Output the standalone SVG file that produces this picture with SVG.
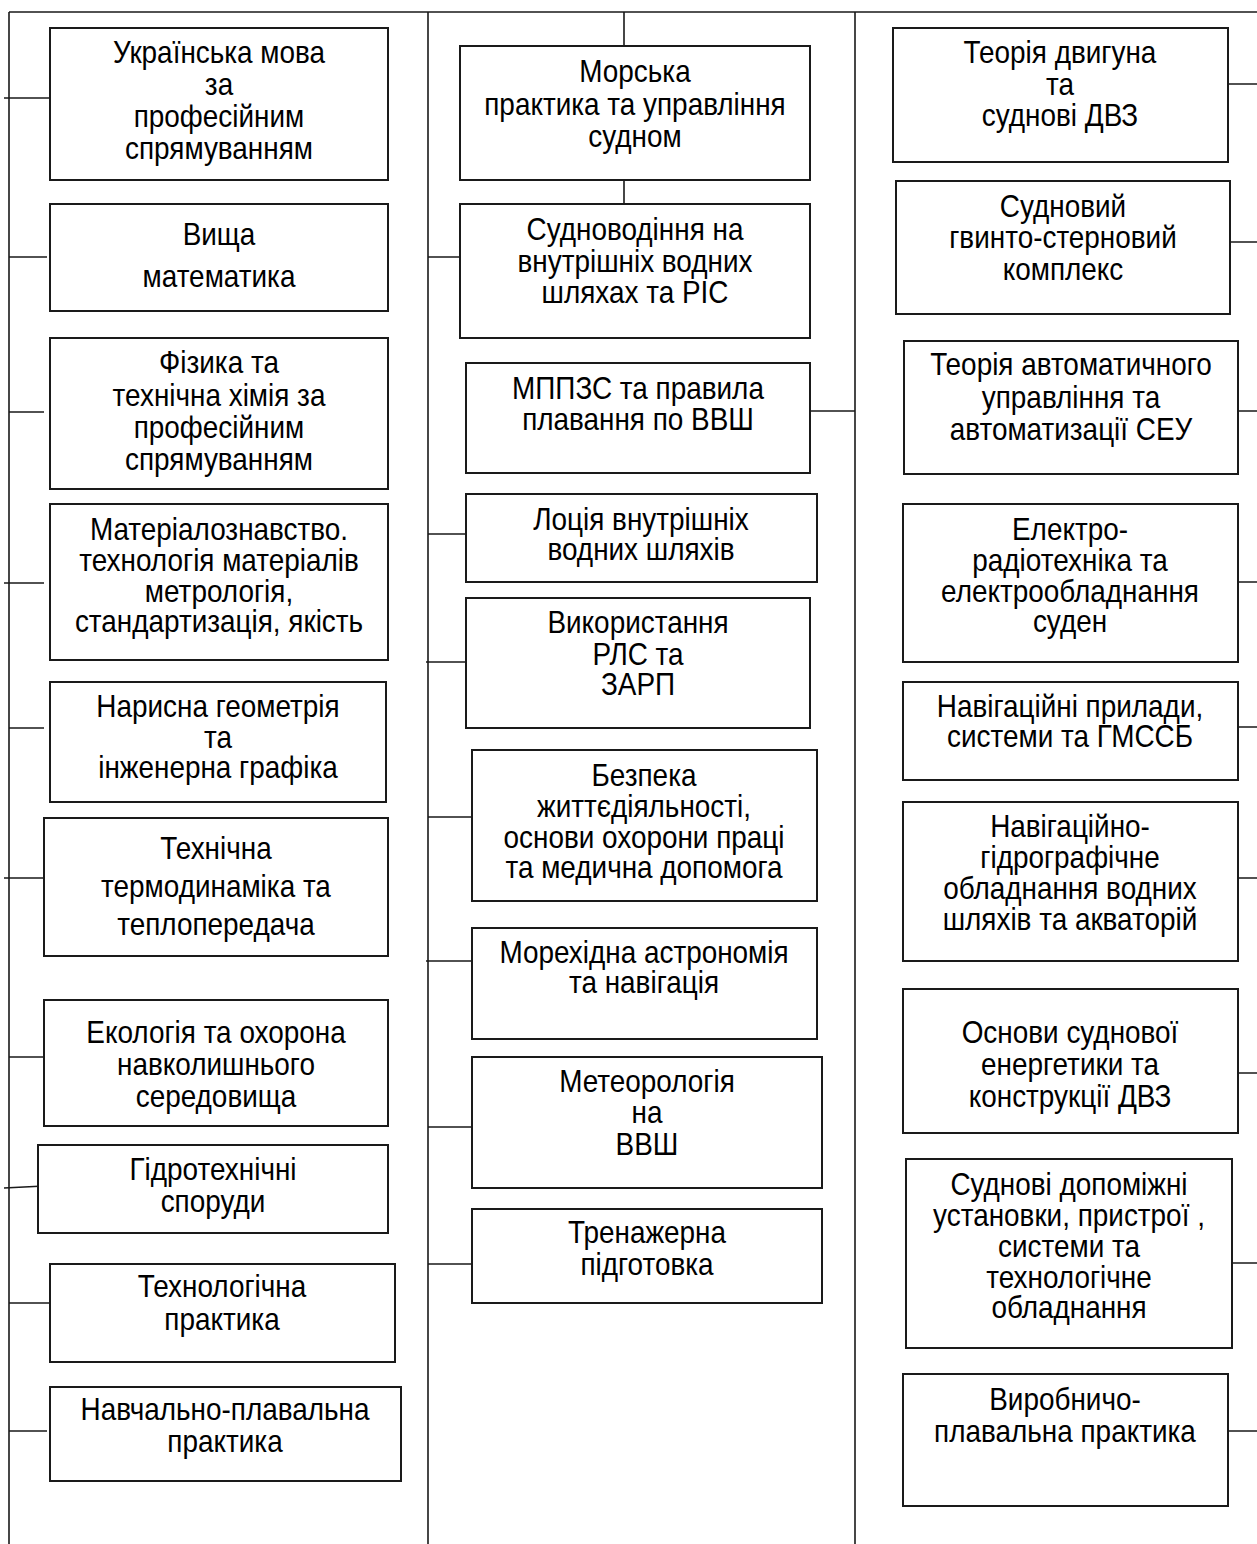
<svg xmlns="http://www.w3.org/2000/svg" width="1257" height="1544" viewBox="0 0 1257 1544">
<style>
.b{fill:#fff;stroke:#1a1a1a;stroke-width:2}
.c{stroke:#1a1a1a;stroke-width:1.6;fill:none}
text{font-family:"Liberation Sans",Arial,sans-serif;font-size:31px;fill:#000;text-anchor:middle}
</style>
<rect width="1257" height="1544" fill="#fff"/>
<g id="connectors">
<path class="c" d="M9,12H1257M9,12V1544M428,12V1544M855,12V1544M624,12V46M624,180V204"/>
<path class="c" d="M4,98H50M9,257H47M9,412H44M4,583H44M9,728H44M4,878H47M9,1057H44M4,1188L44,1186M9,1303H50M9,1431H47"/>
<path class="c" d="M428,257H460M810,411H855M428,534H466M426,662H466M428,817H472M426,961H472M428,1127H472M428,1264H472"/>
<path class="c" d="M1228,84H1257M1230,242H1257M1238,411H1257M1238,582H1257M1238,727H1257M1238,878H1257M1238,1073H1257M1232,1263H1257M1228,1431H1257"/>
</g>
<g id="n1"><rect class="b" x="50" y="28" width="338" height="152"/><text transform="matrix(0.9 0 0 1 21.9 0)"><tspan x="219" y="63">Українська мова</tspan><tspan x="219" y="95">за</tspan><tspan x="219" y="127">професійним</tspan><tspan x="219" y="159">спрямуванням</tspan></text></g>
<g id="n2"><rect class="b" x="50" y="204" width="338" height="107"/><text transform="matrix(0.9 0 0 1 21.9 0)"><tspan x="219" y="245">Вища</tspan><tspan x="219" y="287">математика</tspan></text></g>
<g id="n3"><rect class="b" x="50" y="338" width="338" height="151"/><text transform="matrix(0.9 0 0 1 21.9 0)"><tspan x="219" y="373">Фізика та</tspan><tspan x="219" y="406">технічна хімія за</tspan><tspan x="219" y="438">професійним</tspan><tspan x="219" y="470">спрямуванням</tspan></text></g>
<g id="n4"><rect class="b" x="50" y="504" width="338" height="156"/><text transform="matrix(0.9 0 0 1 21.9 0)"><tspan x="219" y="540">Матеріалознавство.</tspan><tspan x="219" y="571">технологія матеріалів</tspan><tspan x="219" y="602">метрологія,</tspan><tspan x="219" y="632">стандартизація, якість</tspan></text></g>
<g id="n5"><rect class="b" x="50" y="682" width="336" height="120"/><text transform="matrix(0.9 0 0 1 21.8 0)"><tspan x="218" y="717">Нарисна геометрія</tspan><tspan x="218" y="748">та</tspan><tspan x="218" y="778">інженерна графіка</tspan></text></g>
<g id="n6"><rect class="b" x="44" y="818" width="344" height="138"/><text transform="matrix(0.9 0 0 1 21.6 0)"><tspan x="216" y="859">Технічна</tspan><tspan x="216" y="897">термодинаміка та</tspan><tspan x="216" y="935">теплопередача</tspan></text></g>
<g id="n7"><rect class="b" x="44" y="1000" width="344" height="126"/><text transform="matrix(0.9 0 0 1 21.6 0)"><tspan x="216" y="1043">Екологія та охорона</tspan><tspan x="216" y="1075">навколишнього</tspan><tspan x="216" y="1107">середовища</tspan></text></g>
<g id="n8"><rect class="b" x="38" y="1145" width="350" height="88"/><text transform="matrix(0.9 0 0 1 21.3 0)"><tspan x="213" y="1180">Гідротехнічні</tspan><tspan x="213" y="1212">споруди</tspan></text></g>
<g id="n9"><rect class="b" x="50" y="1264" width="345" height="98"/><text transform="matrix(0.9 0 0 1 22.2 0)"><tspan x="222" y="1297">Технологічна</tspan><tspan x="222" y="1330">практика</tspan></text></g>
<g id="n10"><rect class="b" x="50" y="1387" width="351" height="94"/><text transform="matrix(0.9 0 0 1 22.5 0)"><tspan x="225" y="1420">Навчально-плавальна</tspan><tspan x="225" y="1452">практика</tspan></text></g>
<g id="m1"><rect class="b" x="460" y="46" width="350" height="134"/><text transform="matrix(0.9 0 0 1 63.5 0)"><tspan x="635" y="82">Морська</tspan><tspan x="635" y="115">практика та управління</tspan><tspan x="635" y="147">судном</tspan></text></g>
<g id="m2"><rect class="b" x="460" y="204" width="350" height="134"/><text transform="matrix(0.9 0 0 1 63.5 0)"><tspan x="635" y="240">Судноводіння на</tspan><tspan x="635" y="272">внутрішніх водних</tspan><tspan x="635" y="303">шляхах та РІС</tspan></text></g>
<g id="m3"><rect class="b" x="466" y="363" width="344" height="110"/><text transform="matrix(0.9 0 0 1 63.8 0)"><tspan x="638" y="399">МППЗС та правила</tspan><tspan x="638" y="430">плавання по ВВШ</tspan></text></g>
<g id="m4"><rect class="b" x="466" y="494" width="351" height="88"/><text transform="matrix(0.9 0 0 1 64.1 0)"><tspan x="641" y="530">Лоція внутрішніх</tspan><tspan x="641" y="560">водних шляхів</tspan></text></g>
<g id="m5"><rect class="b" x="466" y="598" width="344" height="130"/><text transform="matrix(0.9 0 0 1 63.8 0)"><tspan x="638" y="633">Використання</tspan><tspan x="638" y="665">РЛС та</tspan><tspan x="638" y="695">ЗАРП</tspan></text></g>
<g id="m6"><rect class="b" x="472" y="750" width="345" height="151"/><text transform="matrix(0.9 0 0 1 64.4 0)"><tspan x="644" y="786">Безпека</tspan><tspan x="644" y="817">життєдіяльності,</tspan><tspan x="644" y="848">основи охорони праці</tspan><tspan x="644" y="878">та медична допомога</tspan></text></g>
<g id="m7"><rect class="b" x="472" y="928" width="345" height="111"/><text transform="matrix(0.9 0 0 1 64.4 0)"><tspan x="644" y="963">Морехідна астрономія</tspan><tspan x="644" y="993">та навігація</tspan></text></g>
<g id="m8"><rect class="b" x="472" y="1057" width="350" height="131"/><text transform="matrix(0.9 0 0 1 64.7 0)"><tspan x="647" y="1092">Метеорологія</tspan><tspan x="647" y="1123">на</tspan><tspan x="647" y="1155">ВВШ</tspan></text></g>
<g id="m9"><rect class="b" x="472" y="1209" width="350" height="94"/><text transform="matrix(0.9 0 0 1 64.7 0)"><tspan x="647" y="1243">Тренажерна</tspan><tspan x="647" y="1275">підготовка</tspan></text></g>
<g id="r1"><rect class="b" x="893" y="28" width="335" height="134"/><text transform="matrix(0.9 0 0 1 106 0)"><tspan x="1060" y="63">Теорія двигуна</tspan><tspan x="1060" y="95">та</tspan><tspan x="1060" y="126">суднові ДВЗ</tspan></text></g>
<g id="r2"><rect class="b" x="896" y="181" width="334" height="133"/><text transform="matrix(0.9 0 0 1 106.3 0)"><tspan x="1063" y="217">Судновий</tspan><tspan x="1063" y="248">гвинто-стерновий</tspan><tspan x="1063" y="280">комплекс</tspan></text></g>
<g id="r3"><rect class="b" x="904" y="341" width="334" height="133"/><text transform="matrix(0.9 0 0 1 107.1 0)"><tspan x="1071" y="375">Теорія автоматичного</tspan><tspan x="1071" y="408">управління та</tspan><tspan x="1071" y="440">автоматизації СЕУ</tspan></text></g>
<g id="r4"><rect class="b" x="903" y="504" width="335" height="158"/><text transform="matrix(0.9 0 0 1 107 0)"><tspan x="1070" y="540">Електро-</tspan><tspan x="1070" y="571">радіотехніка та</tspan><tspan x="1070" y="602">електрообладнання</tspan><tspan x="1070" y="632">суден</tspan></text></g>
<g id="r5"><rect class="b" x="903" y="682" width="335" height="98"/><text transform="matrix(0.9 0 0 1 107 0)"><tspan x="1070" y="717">Навігаційні прилади,</tspan><tspan x="1070" y="747">системи та ГМССБ</tspan></text></g>
<g id="r6"><rect class="b" x="903" y="802" width="335" height="159"/><text transform="matrix(0.9 0 0 1 107 0)"><tspan x="1070" y="837">Навігаційно-</tspan><tspan x="1070" y="868">гідрографічне</tspan><tspan x="1070" y="899">обладнання водних</tspan><tspan x="1070" y="930">шляхів та акваторій</tspan></text></g>
<g id="r7"><rect class="b" x="903" y="989" width="335" height="144"/><text transform="matrix(0.9 0 0 1 107 0)"><tspan x="1070" y="1043">Основи суднової</tspan><tspan x="1070" y="1075">енергетики та</tspan><tspan x="1070" y="1107">конструкції ДВЗ</tspan></text></g>
<g id="r8"><rect class="b" x="906" y="1159" width="326" height="189"/><text transform="matrix(0.9 0 0 1 106.9 0)"><tspan x="1069" y="1195">Суднові допоміжні</tspan><tspan x="1069" y="1226">установки, пристрої ,</tspan><tspan x="1069" y="1257">системи та</tspan><tspan x="1069" y="1288">технологічне</tspan><tspan x="1069" y="1318">обладнання</tspan></text></g>
<g id="r9"><rect class="b" x="903" y="1374" width="325" height="132"/><text transform="matrix(0.9 0 0 1 106.5 0)"><tspan x="1065" y="1410">Виробничо-</tspan><tspan x="1065" y="1442">плавальна практика</tspan></text></g>
</svg>
